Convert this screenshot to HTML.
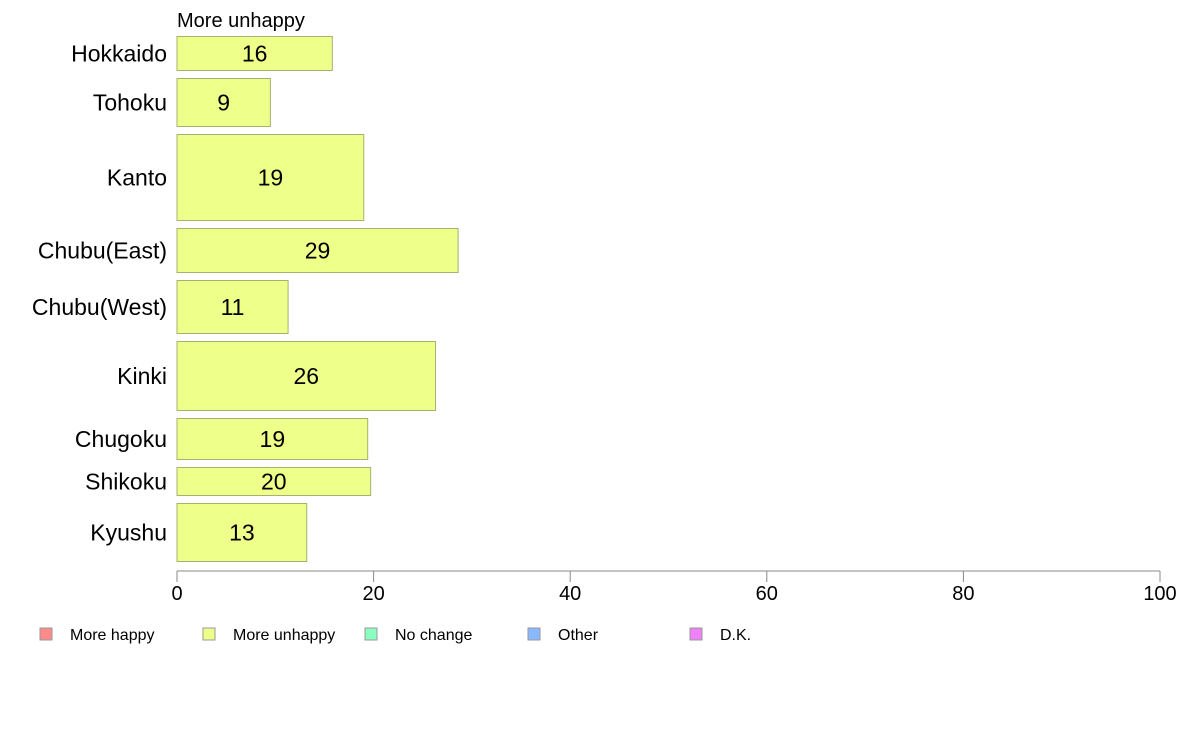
<!DOCTYPE html>
<html><head><meta charset="utf-8"><style>
body{margin:0;background:#fff;}
svg{display:block;font-family:"Liberation Sans",Arial,sans-serif;}
</style></head><body>
<svg id="chart" width="1188" height="736" viewBox="0 0 1188 736">
<text x="177" y="27" font-size="20" fill="#000">More unhappy</text>
<g id="bars"></g>
<g id="axis"></g>
<g id="legend"></g>
</svg>
<script>
const categories = ["Hokkaido","Tohoku","Kanto","Chubu(East)","Chubu(West)","Kinki","Chugoku","Shikoku","Kyushu"];
const values = [15.8, 9.5, 19.0, 28.6, 11.3, 26.3, 19.4, 19.7, 13.2];
const labels = ["16","9","19","29","11","26","19","20","13"];
const weights = [34, 48, 86, 44, 53, 69, 41, 28, 58];
const ticks = [0, 20, 40, 60, 80, 100];
const legendNames = ["More happy","More unhappy","No change","Other","D.K."];
const legendColors = ["#ff8a8a","#eeff8a","#8affc0","#8ab8ff","#ee80f8"];

const NS = "http://www.w3.org/2000/svg";
const x0 = 177, x1 = 1160, top0 = 36.5, gap = 8;
function xs(v){ return x0 + (v/100)*(x1-x0); }
function mk(tag, attrs, parent){ const e=document.createElementNS(NS,tag); for(const k in attrs) e.setAttribute(k,attrs[k]); parent.appendChild(e); return e; }

const bars = document.getElementById("bars");
let y = top0;
categories.forEach((c,i)=>{
  const h = weights[i];
  const r = mk("rect",{x:x0,y:y,width:xs(values[i])-x0,height:h,fill:"#eeff8a",stroke:"#a8b070","stroke-width":1},bars);
  
  
  const cy = y + h/2 + 8;
  const t = mk("text",{x:(x0+xs(values[i]))/2,y:cy,"font-size":23,"text-anchor":"middle",fill:"#000"},bars);
  t.textContent = labels[i];
  
  
  const l = mk("text",{x:167,y:cy,"font-size":23,"text-anchor":"end",fill:"#000"},bars);
  l.textContent = c;
  
  
  y += h + gap;
});

const axis = document.getElementById("axis");
const ay = 571;
const al = mk("line",{x1:x0,y1:ay,x2:x1,y2:ay,stroke:"#888","stroke-width":1},axis);


ticks.forEach(v=>{
  const tl = mk("line",{x1:xs(v),y1:ay,x2:xs(v),y2:ay+11,stroke:"#888","stroke-width":1},axis);
  
  
  const tt = mk("text",{x:xs(v),y:600,"font-size":20,"text-anchor":"middle",fill:"#000"},axis);
  tt.textContent = v;
  
  
});

const legend = document.getElementById("legend");
const lx = [40, 203, 365, 528, 690];
legendNames.forEach((n,i)=>{
  const s = mk("rect",{x:lx[i],y:628,width:12,height:12,fill:legendColors[i],stroke:"#999","stroke-width":1},legend);
  
  
  const t = mk("text",{x:lx[i]+30,y:640,"font-size":16,fill:"#000"},legend);
  t.textContent = n;
  
  
});
</script>
</body></html>
